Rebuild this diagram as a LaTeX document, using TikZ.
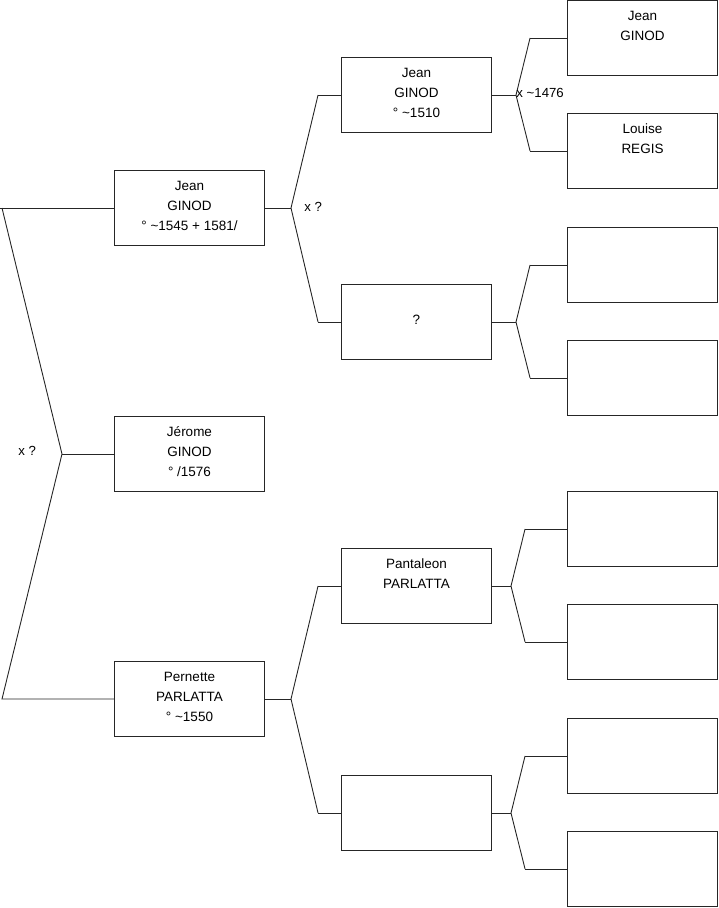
\documentclass[tikz,border=0pt]{standalone}
\usepackage{fontspec}
\setmainfont{Liberation Sans}
\newcommand\pstrut{\rule[-7.2pt]{0pt}{20pt}}
\begin{document}
\begin{tikzpicture}[x=1pt,y=-1pt,line width=0.9pt,
  person/.style={draw=black!85, fill=white, minimum width=150pt, minimum height=75pt, inner sep=0pt, align=center, font=\fontsize{13.5}{20}\selectfont},
  lbl/.style={anchor=west, inner sep=0pt, font=\fontsize{13.2}{15}\selectfont},
  link/.style={draw=black!85, line join=miter}]
\useasboundingbox (0,0) rectangle (719,908);
% generation 1
\node[person] (jean1) at (189.5,208) {\pstrut Jean\\\pstrut GINOD\\\pstrut ° \textasciitilde1545 + 1581/};
\node[person] (jerome) at (189.5,454) {\pstrut Jérome\\\pstrut GINOD\\\pstrut ° /1576};
\node[person] (pernette) at (189.5,699) {\pstrut Pernette\\\pstrut PARLATTA\\\pstrut ° \textasciitilde1550};
% generation 2
\node[person] (jean2) at (416.5,95) {\pstrut Jean\\\pstrut GINOD\\\pstrut ° \textasciitilde1510};
\node[person] (unk2) at (416.5,322) {\pstrut ?};
\node[person] (pant) at (416.5,586) {\pstrut Pantaleon\\\pstrut PARLATTA\\\pstrut};
\node[person] (emp2) at (416.5,813) {};
% generation 3
\node[person] (jean3) at (642.5,38) {\pstrut Jean\\\pstrut GINOD\\\pstrut};
\node[person] (louise) at (642.5,151) {\pstrut Louise\\\pstrut REGIS\\\pstrut};
\node[person] (g3c) at (642.5,265) {};
\node[person] (g3d) at (642.5,378) {};
\node[person] (g3e) at (642.5,529) {};
\node[person] (g3f) at (642.5,642) {};
\node[person] (g3g) at (642.5,756) {};
\node[person] (g3h) at (642.5,869) {};
% root bracket
\coordinate (rootj) at (62,454);
\coordinate (roottop) at (2,208);
\coordinate (rootbot) at (2,699);
\path[link] (jean1.west) -- (0,208);
\path[link] (roottop) -- (rootj) -- (rootbot) -- (pernette.west);
\path[link] (rootj) -- (jerome.west);
\node[lbl] (xroot) at (18,451) {x ?};
% jean1 parents
\coordinate (j1j) at (291,208);
\path[link] (jean1.east) -- (j1j);
\path[link] ([xshift=-23pt]jean2.west) -- (j1j) -- ([xshift=-23pt]unk2.west);
\path[link] ([xshift=-23pt]jean2.west) -- (jean2.west);
\path[link] ([xshift=-23pt]unk2.west) -- (unk2.west);
\node[lbl] (x1) at (304,207) {x ?};
% pernette parents
\coordinate (pej) at (291,699);
\path[link] (pernette.east) -- (pej);
\path[link] ([xshift=-23pt]pant.west) -- (pej) -- ([xshift=-23pt]emp2.west);
\path[link] ([xshift=-23pt]pant.west) -- (pant.west);
\path[link] ([xshift=-23pt]emp2.west) -- (emp2.west);
% jean2 parents
\coordinate (j2j) at (516,95);
\path[link] (jean2.east) -- (j2j);
\path[link] ([xshift=-37pt]jean3.west) -- (j2j) -- ([xshift=-37pt]louise.west);
\path[link] ([xshift=-37pt]jean3.west) -- (jean3.west);
\path[link] ([xshift=-37pt]louise.west) -- (louise.west);
\node[lbl] (x2) at (516,93) {x \textasciitilde1476};
% unk2 parents
\coordinate (u2j) at (516,322);
\path[link] (unk2.east) -- (u2j);
\path[link] ([xshift=-37pt]g3c.west) -- (u2j) -- ([xshift=-37pt]g3d.west);
\path[link] ([xshift=-37pt]g3c.west) -- (g3c.west);
\path[link] ([xshift=-37pt]g3d.west) -- (g3d.west);
% pant parents
\coordinate (paj) at (511,586);
\path[link] (pant.east) -- (paj);
\path[link] ([xshift=-42pt]g3e.west) -- (paj) -- ([xshift=-42pt]g3f.west);
\path[link] ([xshift=-42pt]g3e.west) -- (g3e.west);
\path[link] ([xshift=-42pt]g3f.west) -- (g3f.west);
% emp2 parents
\coordinate (e2j) at (511,813);
\path[link] (emp2.east) -- (e2j);
\path[link] ([xshift=-42pt]g3g.west) -- (e2j) -- ([xshift=-42pt]g3h.west);
\path[link] ([xshift=-42pt]g3g.west) -- (g3g.west);
\path[link] ([xshift=-42pt]g3h.west) -- (g3h.west);
\end{tikzpicture}
\end{document}
